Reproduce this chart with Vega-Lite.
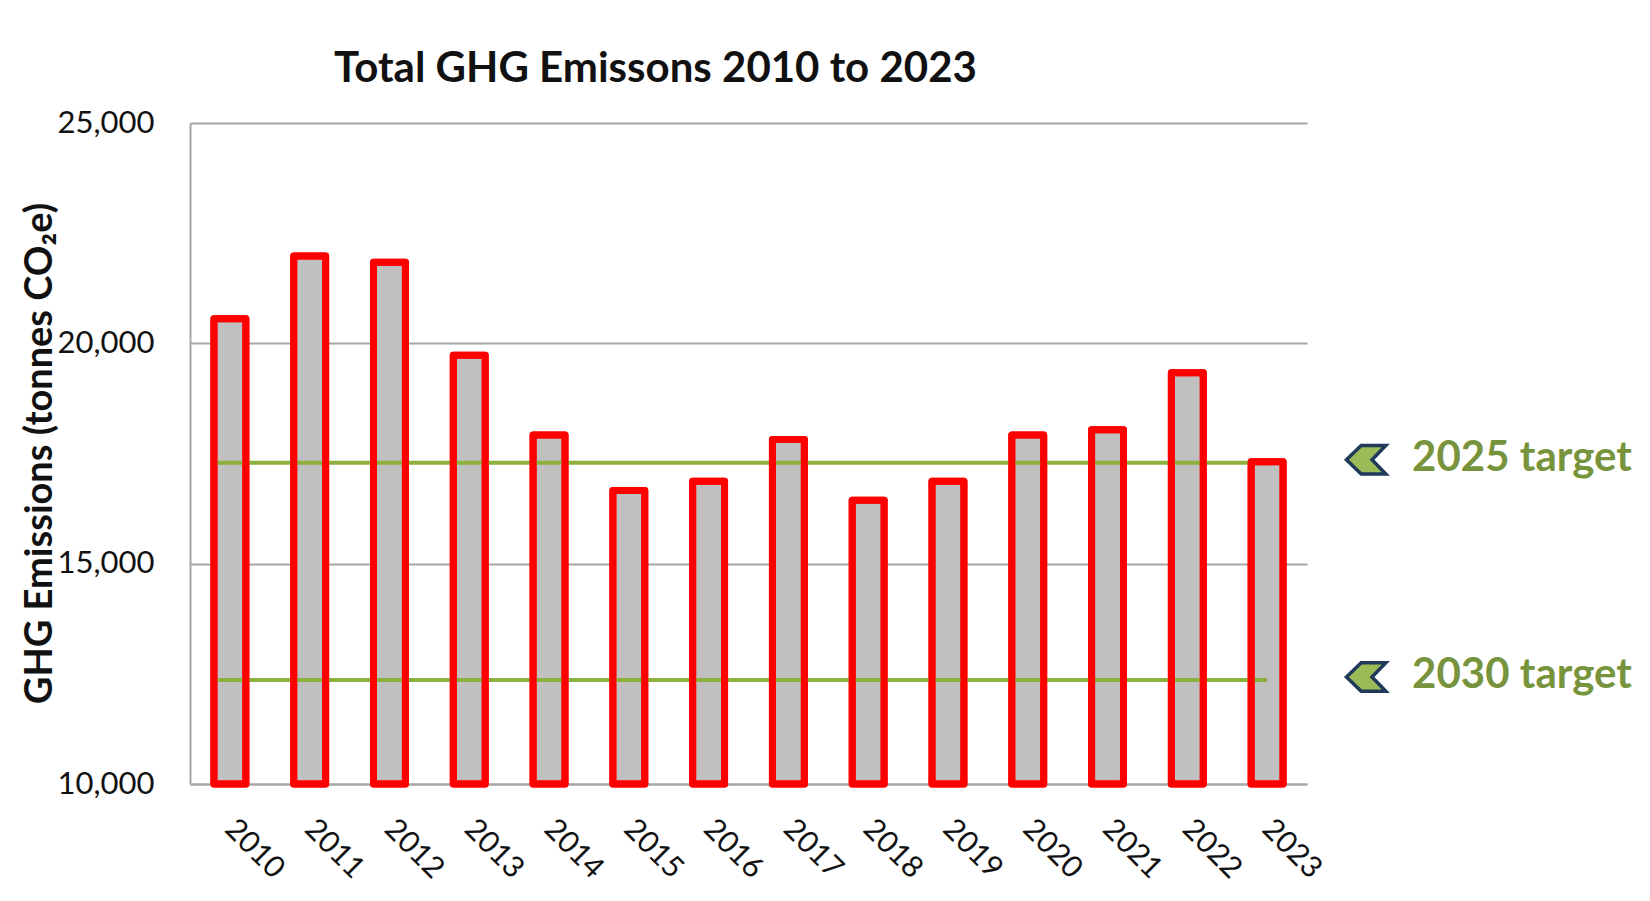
{
  "$schema": "https://vega.github.io/schema/vega-lite/v6.json",
  "width": 1117,
  "height": 661,
  "autosize": {"type": "none"},
  "padding": {"left": 190, "top": 123, "right": 343, "bottom": 117},
  "background": "white",
  "title": {
    "text": "Total GHG Emissons 2010 to 2023",
    "font": "Lato",
    "fontSize": 42,
    "fontWeight": "bold",
    "color": "#111111",
    "anchor": "middle",
    "frame": "group",
    "baseline": "alphabetic",
    "dx": -93,
    "offset": -17
  },
  "datasets": {
    "emissions": [
      {"year": "2010", "emissions": 20560},
      {"year": "2011", "emissions": 21980},
      {"year": "2012", "emissions": 21840},
      {"year": "2013", "emissions": 19730},
      {"year": "2014", "emissions": 17920},
      {"year": "2015", "emissions": 16660},
      {"year": "2016", "emissions": 16870},
      {"year": "2017", "emissions": 17820},
      {"year": "2018", "emissions": 16440},
      {"year": "2019", "emissions": 16870},
      {"year": "2020", "emissions": 17920},
      {"year": "2021", "emissions": 18040},
      {"year": "2022", "emissions": 19330},
      {"year": "2023", "emissions": 17310}
    ],
    "targets": [
      {"target": "2025 target", "value": 17290, "start": "2010", "end": "2023"},
      {"target": "2030 target", "value": 12360, "start": "2010", "end": "2023"}
    ]
  },
  "config": {
    "view": {"stroke": null},
    "axis": {
      "domainColor": "#A6A6A6",
      "domainWidth": 2,
      "gridColor": "#A6A6A6",
      "gridWidth": 2,
      "ticks": false,
      "labelFont": "Lato",
      "labelColor": "#111111",
      "titleFont": "Lato",
      "titleColor": "#111111"
    }
  },
  "layer": [
    {
      "data": {"name": "emissions"},
      "mark": {"type": "bar", "fill": "#C0C0C0", "stroke": "#FF0000", "strokeWidth": 7, "strokeJoin": "round"},
      "encoding": {
        "x": {
          "field": "year",
          "type": "ordinal",
          "scale": {"paddingInner": 0.6, "paddingOuter": 0.3},
          "axis": {
            "title": null,
            "labelAngle": 45,
            "labelAlign": "left",
            "labelBaseline": "middle",
            "labelPadding": 40,
            "labelFontSize": 30,
            "grid": false
          }
        },
        "y": {
          "field": "emissions",
          "type": "quantitative",
          "scale": {"domain": [10000, 25000], "nice": false, "zero": false},
          "axis": {
            "title": "GHG Emissions (tonnes CO₂e)",
            "values": [10000, 15000, 20000, 25000],
            "format": ",.0f",
            "grid": true,
            "labelPadding": 36,
            "labelFontSize": 31,
            "titleFontSize": 38,
            "titleFontWeight": "bold",
            "titleAngle": -90,
            "titleBaseline": "middle",
            "titleAlign": "center",
            "titleX": -150,
            "titleY": 330
          }
        },
        "y2": {"datum": 10000}
      }
    },
    {
      "data": {"name": "targets"},
      "mark": {"type": "rule", "color": "#8DB03F", "strokeWidth": 4},
      "encoding": {
        "x": {"field": "start", "type": "ordinal", "bandPosition": 0},
        "x2": {"field": "end", "bandPosition": 0.5},
        "y": {"field": "value", "type": "quantitative"}
      }
    },
    {
      "data": {"name": "emissions"},
      "mark": {"type": "bar", "fillOpacity": 0, "stroke": "#FF0000", "strokeWidth": 7, "strokeJoin": "round"},
      "encoding": {
        "x": {"field": "year", "type": "ordinal"},
        "y": {"field": "emissions", "type": "quantitative"},
        "y2": {"datum": 10000}
      }
    },
    {
      "data": {"name": "targets"},
      "mark": {
        "type": "point",
        "shape": "M-1,0L-0.25,-0.72L1,-0.72L0.3,0L1,0.72L-0.25,0.72Z",
        "size": 1550,
        "filled": true,
        "fill": "#9BBB59",
        "stroke": "#1F3A5A",
        "strokeWidth": 3.5,
        "strokeJoin": "miter",
        "opacity": 1,
        "xOffset": 99,
        "yOffset": -3
      },
      "encoding": {
        "x": {"field": "end", "type": "ordinal", "bandPosition": 0.5},
        "y": {"field": "value", "type": "quantitative"}
      }
    },
    {
      "data": {"name": "targets"},
      "mark": {
        "type": "text",
        "align": "left",
        "baseline": "middle",
        "font": "Lato",
        "fontWeight": "bold",
        "fontSize": 42,
        "color": "#77933C",
        "dx": 145,
        "dy": -5
      },
      "encoding": {
        "x": {"field": "end", "type": "ordinal", "bandPosition": 0.5},
        "y": {"field": "value", "type": "quantitative"},
        "text": {"field": "target"}
      }
    }
  ]
}
